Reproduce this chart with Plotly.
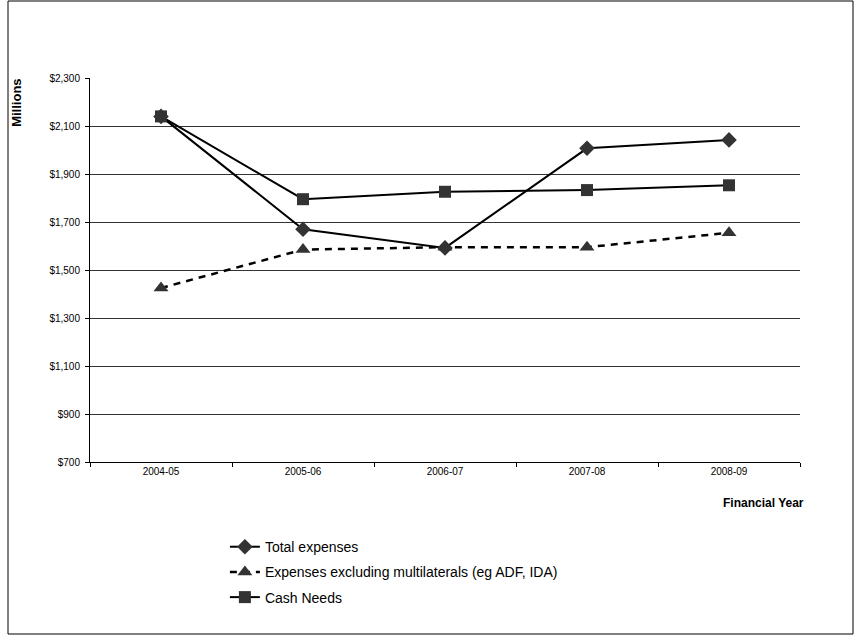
import plotly.graph_objects as go

# Financial years on the category axis
years = ["2004-05", "2005-06", "2006-07", "2007-08", "2008-09"]

# Series values, $ millions
total_expenses = [2140, 1670, 1592, 2007, 2042]
expenses_excl_multilaterals = [1425, 1585, 1595, 1595, 1655]
cash_needs = [2140, 1795, 1826, 1833, 1853]

# Value axis ticks and their labels
y_ticks = [700, 900, 1100, 1300, 1500, 1700, 1900, 2100, 2300]
y_tick_labels = ["${:,}".format(v) for v in y_ticks]

FONT = "Liberation Sans, Arial, sans-serif"
MARKER = "#333333"

fig = go.Figure()

fig.add_trace(go.Scatter(
    x=years, y=total_expenses, name="Total expenses", mode="lines+markers",
    line=dict(color="black", width=2),
    marker=dict(symbol="diamond", size=12, color=MARKER, line=dict(width=0)),
    legendgroup="a",
))
fig.add_trace(go.Scatter(
    x=years, y=expenses_excl_multilaterals,
    name="Expenses excluding multilaterals (eg ADF, IDA)", mode="lines+markers",
    line=dict(color="black", width=2.5, dash="7px,6px"),
    marker=dict(symbol="triangle-up", size=13, color=MARKER, line=dict(width=0)),
    legendgroup="b",
))
fig.add_trace(go.Scatter(
    x=years, y=cash_needs, name="Cash Needs", mode="lines+markers",
    line=dict(color="black", width=2),
    marker=dict(symbol="square", size=12, color=MARKER, line=dict(width=0)),
    legendgroup="c",
))

fig.update_layout(
    width=857, height=636,
    margin=dict(l=90, r=57, t=78, b=174, autoexpand=False),
    paper_bgcolor="white", plot_bgcolor="white",
    font=dict(family=FONT, color="black"),
    showlegend=True,
    legend=dict(
        x=0.19, y=-0.18, xanchor="left", yanchor="top",
        font=dict(size=14, family=FONT, color="black"),
        bgcolor="rgba(0,0,0,0)", tracegroupgap=4,
        itemwidth=30,
    ),
    xaxis=dict(
        type="category", range=[-0.5, 4.5],
        showline=True, linecolor="black", linewidth=1,
        ticks="outside", ticklen=4, tickcolor="black", tickson="boundaries",
        showgrid=False, tickfont=dict(size=10, family=FONT),
        fixedrange=True,
    ),
    yaxis=dict(
        range=[700, 2300], tickmode="array",
        tickvals=y_ticks, ticktext=y_tick_labels,
        showline=True, linecolor="black", linewidth=1,
        ticks="outside", ticklen=4, tickcolor="black", ticklabelstandoff=3,
        showgrid=True, gridcolor="#333333", gridwidth=1,
        zeroline=False, tickfont=dict(size=10, family=FONT),
        fixedrange=True,
    ),
    annotations=[
        dict(text="<b>Millions</b>", textangle=-90, xref="paper", yref="paper",
             x=-0.103, y=0.935, xanchor="center", yanchor="middle",
             showarrow=False, font=dict(size=13, family=FONT)),
        dict(text="<b>Financial Year</b>", xref="paper", yref="paper",
             x=1.0085, y=-0.107, xanchor="right", yanchor="middle",
             showarrow=False, font=dict(size=12, family=FONT)),
    ],
    shapes=[
        # outer chart border
        dict(type="rect", xref="paper", yref="paper",
             x0=(8 - 90) / 710, x1=(853 - 90) / 710,
             y0=(462 - 634) / 384, y1=(462 - 1) / 384,
             line=dict(color="black", width=1), fillcolor="rgba(0,0,0,0)",
             layer="below"),
    ],
)

fig.write_html("out.html")
